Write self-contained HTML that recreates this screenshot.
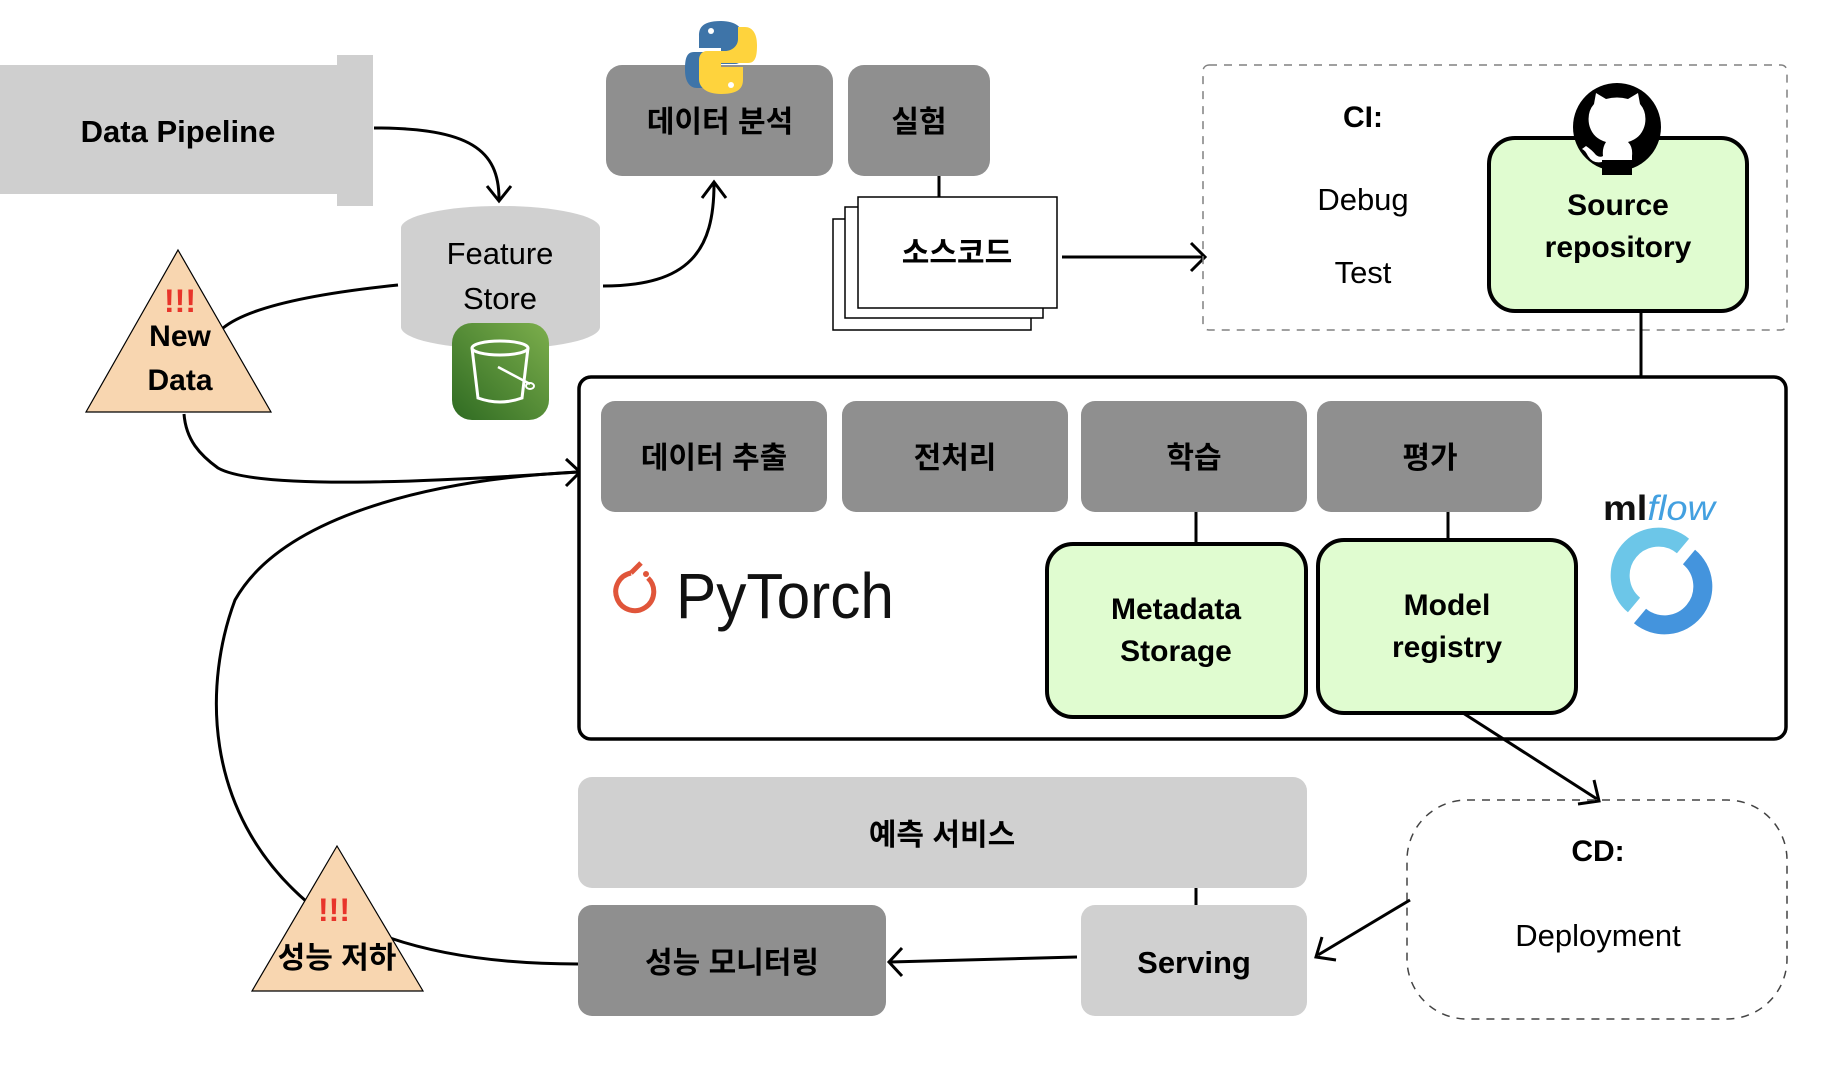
<!DOCTYPE html>
<html><head><meta charset="utf-8"><style>
html,body{margin:0;padding:0;background:#fff;}
svg{display:block;}
text{font-family:"Liberation Sans","Noto Sans CJK KR",sans-serif;}
.b{font-weight:bold;}
</style></head><body>
<svg width="1840" height="1066" viewBox="0 0 1840 1066" xmlns="http://www.w3.org/2000/svg">
<defs>
<linearGradient id="bg" x1="1" y1="0" x2="0" y2="1"><stop offset="0" stop-color="#7cae4c"/><stop offset="1" stop-color="#2f6b22"/></linearGradient>
</defs>
<rect x="0" y="65" width="373" height="129" fill="#cfcfcf"/>
<rect x="337" y="55" width="36" height="151" fill="#cfcfcf"/>
<text x="178" y="142" font-size="31" class="b" text-anchor="middle">Data Pipeline</text>
<path d="M374 128 C470 128 499 150 499 199" fill="none" stroke="#000" stroke-width="3"/>
<path d="M487 186 L499 201 L511 186" fill="none" stroke="#000" stroke-width="3"/>
<path d="M401 228 A99.5 22 0 0 1 600 228 L600 327 A99.5 22 0 0 1 401 327 Z" fill="#d0d0d0"/>
<text x="500" y="264" font-size="31" text-anchor="middle">Feature</text>
<text x="500" y="309" font-size="31" text-anchor="middle">Store</text>
<rect x="452" y="323" width="97" height="97" rx="20" fill="url(#bg)"/>
<path d="M472 348 L478 398 Q500 406 522 398 L528 348" fill="none" stroke="#fff" stroke-width="3"/>
<ellipse cx="500" cy="348" rx="28" ry="7" fill="none" stroke="#fff" stroke-width="3"/>
<path d="M498 367 L530 384" stroke="#fff" stroke-width="2.5"/><ellipse cx="530" cy="386" rx="4" ry="3" fill="none" stroke="#fff" stroke-width="2"/>
<path d="M603 286 C690 286 714 250 714 184" fill="none" stroke="#000" stroke-width="3"/>
<path d="M702 198 L714 182 L726 198" fill="none" stroke="#000" stroke-width="3"/>
<rect x="606" y="65" width="227" height="111" rx="16" fill="#8f8f8f"/>
<text x="720" y="132" font-size="30" class="b" text-anchor="middle">데이터 분석</text>
<rect x="848" y="65" width="142" height="111" rx="16" fill="#8f8f8f"/>
<text x="919" y="132" font-size="30" class="b" text-anchor="middle">실험</text>
<path d="M721 21 C700 21 699 30 699 36 L699 48 L721 48 L721 52 L694 52 C686 52 685 60 685 70 C685 82 690 88 697 88 L704 88 L704 76 C704 69 710 64 717 64 L735 64 C740 64 743 60 743 55 L743 36 C743 28 736 21 721 21 Z" fill="#3e74a8"/>
<circle cx="711" cy="31" r="3" fill="#fff"/>
<path d="M721 94 C742 94 743 85 743 79 L743 67 L721 67 L721 63 L748 63 C756 63 757 55 757 45 C757 33 752 27 745 27 L738 27 L738 39 C738 46 732 51 725 51 L707 51 C702 51 699 55 699 60 L699 79 C699 87 706 94 721 94 Z" fill="#fed33d"/>
<circle cx="731" cy="85" r="3" fill="#fff"/>
<line x1="939" y1="176" x2="939" y2="198" stroke="#000" stroke-width="3"/>
<rect x="833" y="219" width="198" height="111" fill="#fff" stroke="#000" stroke-width="1.5"/>
<rect x="845" y="207" width="198" height="111" fill="#fff" stroke="#000" stroke-width="1.5"/>
<rect x="858" y="197" width="199" height="111" fill="#fff" stroke="#000" stroke-width="1.5"/>
<text x="957" y="263" font-size="30" class="b" text-anchor="middle">소스코드</text>
<line x1="1062" y1="257" x2="1203" y2="257" stroke="#000" stroke-width="3"/>
<path d="M1191 243 L1205 257 L1191 271" fill="none" stroke="#000" stroke-width="3"/>
<rect x="1203" y="65" width="584" height="265" rx="6" fill="none" stroke="#808080" stroke-width="1.5" stroke-dasharray="8 7"/>
<text x="1363" y="127" font-size="30" class="b" text-anchor="middle">CI:</text>
<text x="1363" y="210" font-size="31" text-anchor="middle">Debug</text>
<text x="1363" y="283" font-size="31" text-anchor="middle">Test</text>
<rect x="1489" y="138" width="258" height="173" rx="26" fill="#e0fcd0" stroke="#000" stroke-width="4"/>
<text x="1618" y="215" font-size="30" class="b" text-anchor="middle">Source</text>
<text x="1618" y="257" font-size="30" class="b" text-anchor="middle">repository</text>
<circle cx="1617" cy="127" r="44" fill="#000"/>
<path d="M1594 104 L1596 93 L1606 99 Q1617 96 1628 99 L1638 93 L1640 104 Q1647 112 1645 124 Q1642 138 1628 142 Q1633 147 1632 156 L1632 171 L1602 171 L1602 162 Q1593 164 1588 156 Q1585 150 1582 149 L1586 146 Q1592 150 1596 155 Q1600 158 1603 156 Q1602 148 1606 142 Q1592 138 1589 124 Q1587 112 1594 104 Z" fill="#fff"/>
<path d="M1602 160 L1602 175 L1632 175 L1632 160" fill="#000"/>
<line x1="1641" y1="311" x2="1641" y2="378" stroke="#000" stroke-width="3"/>
<path d="M398 285 C300 295 245 310 223 328" fill="none" stroke="#000" stroke-width="3"/>
<path d="M178 250 L271 412 L86 412 Z" fill="#f8d6b0" stroke="#000" stroke-width="1.2"/>
<text x="180" y="312" font-size="32" class="b" text-anchor="middle" fill="#e8342a">!!!</text>
<text x="180" y="346" font-size="30" class="b" text-anchor="middle">New</text>
<text x="180" y="390" font-size="30" class="b" text-anchor="middle">Data</text>
<path d="M184 414 C186 440 200 455 218 468 C260 492 460 480 578 472" fill="none" stroke="#000" stroke-width="3"/>
<path d="M307 902 C200 810 205 680 235 600 C280 520 420 480 578 472" fill="none" stroke="#000" stroke-width="3"/>
<path d="M566 459 L580 472 L566 486" fill="none" stroke="#000" stroke-width="3"/>
<rect x="579" y="377" width="1207" height="362" rx="12" fill="#fff" stroke="#000" stroke-width="3.5"/>
<rect x="601" y="401" width="226" height="111" rx="14" fill="#8f8f8f"/>
<text x="714" y="468" font-size="30" class="b" text-anchor="middle">데이터 추출</text>
<rect x="842" y="401" width="226" height="111" rx="14" fill="#8f8f8f"/>
<text x="955" y="468" font-size="30" class="b" text-anchor="middle">전처리</text>
<rect x="1081" y="401" width="226" height="111" rx="14" fill="#8f8f8f"/>
<text x="1194" y="468" font-size="30" class="b" text-anchor="middle">학습</text>
<rect x="1317" y="401" width="225" height="111" rx="14" fill="#8f8f8f"/>
<text x="1430" y="468" font-size="30" class="b" text-anchor="middle">평가</text>
<line x1="1196" y1="512" x2="1196" y2="545" stroke="#000" stroke-width="3"/>
<line x1="1448" y1="512" x2="1448" y2="541" stroke="#000" stroke-width="3"/>
<path d="M631 573 A19 19 0 1 0 648 578" fill="none" stroke="#e0553a" stroke-width="5"/>
<path d="M631 573 L641 563" stroke="#e0553a" stroke-width="5"/>
<circle cx="646" cy="574" r="3" fill="#e0553a"/>
<text x="676" y="618" font-size="64" fill="#111" textLength="218" lengthAdjust="spacingAndGlyphs">PyTorch</text>
<rect x="1047" y="544" width="259" height="173" rx="26" fill="#e0fcd0" stroke="#000" stroke-width="4"/>
<text x="1176" y="619" font-size="30" class="b" text-anchor="middle">Metadata</text>
<text x="1176" y="661" font-size="30" class="b" text-anchor="middle">Storage</text>
<rect x="1318" y="540" width="258" height="173" rx="26" fill="#e0fcd0" stroke="#000" stroke-width="4"/>
<text x="1447" y="615" font-size="30" class="b" text-anchor="middle">Model</text>
<text x="1447" y="657" font-size="30" class="b" text-anchor="middle">registry</text>
<text x="1603" y="520" font-size="35" fill="#111" class="b" textLength="112" lengthAdjust="spacingAndGlyphs">ml<tspan fill="#43a0e0" font-style="italic" font-weight="normal">flow</tspan></text>
<path d="M1683 546 A35 35 0 0 0 1634 605" fill="none" stroke="#6cc6e8" stroke-width="19"/>
<path d="M1640 616 A35 35 0 0 0 1689 557" fill="none" stroke="#4494dd" stroke-width="19"/>
<line x1="1463" y1="713" x2="1597" y2="799" stroke="#000" stroke-width="3"/>
<path d="M1594 780 L1599 801 L1578 804" fill="none" stroke="#000" stroke-width="3"/>
<rect x="1407" y="800" width="380" height="219" rx="60" fill="none" stroke="#444" stroke-width="1.5" stroke-dasharray="8 7"/>
<text x="1598" y="861" font-size="30" class="b" text-anchor="middle">CD:</text>
<text x="1598" y="946" font-size="31" text-anchor="middle">Deployment</text>
<line x1="1410" y1="900" x2="1318" y2="955" stroke="#000" stroke-width="3"/>
<path d="M1322 937 L1316 957 L1336 960" fill="none" stroke="#000" stroke-width="3"/>
<rect x="578" y="777" width="729" height="111" rx="14" fill="#d0d0d0"/>
<text x="942" y="845" font-size="30" class="b" text-anchor="middle">예측 서비스</text>
<line x1="1196" y1="888" x2="1196" y2="905" stroke="#000" stroke-width="3"/>
<rect x="1081" y="905" width="226" height="111" rx="14" fill="#d0d0d0"/>
<text x="1194" y="973" font-size="31" class="b" text-anchor="middle">Serving</text>
<rect x="578" y="905" width="308" height="111" rx="14" fill="#8f8f8f"/>
<text x="732" y="973" font-size="30" class="b" text-anchor="middle">성능 모니터링</text>
<line x1="1077" y1="957" x2="890" y2="962" stroke="#000" stroke-width="3"/>
<path d="M902 948 L889 962 L902 976" fill="none" stroke="#000" stroke-width="3"/>
<path d="M390 938 C440 955 500 964 578 964" fill="none" stroke="#000" stroke-width="3"/>
<path d="M337 846 L423 991 L252 991 Z" fill="#f8d6b0" stroke="#000" stroke-width="1.2"/>
<text x="334" y="921" font-size="32" class="b" text-anchor="middle" fill="#e8342a">!!!</text>
<text x="337" y="968" font-size="30" class="b" text-anchor="middle">성능 저하</text>
</svg>
</body></html>
